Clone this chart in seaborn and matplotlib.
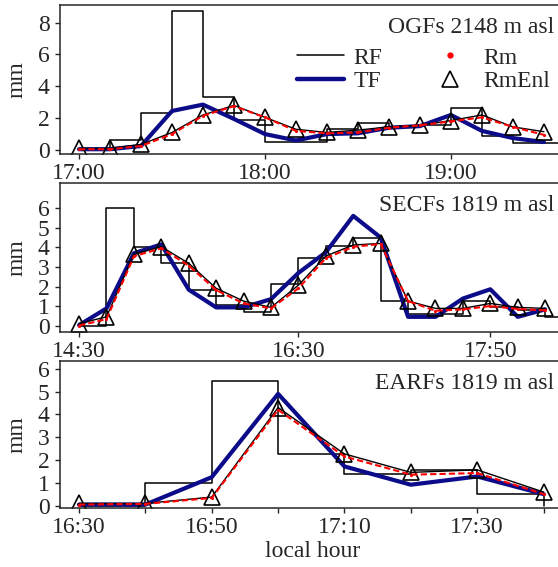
import numpy as np
import seaborn as sns
import matplotlib.pyplot as plt
from matplotlib.lines import Line2D

# OGFs 2148 m asl (10 min steps, 17:00 - 19:30)
ogf_rf = [0.0, 0.65, 2.3, 8.7, 3.3, 1.9, 0.5, 0.5, 1.3, 1.7, 1.45, 1.55, 2.65, 0.85, 0.45, 0.45]
ogf_tf = [0.05, 0.05, 0.25, 2.45, 2.85, 1.95, 1.0, 0.6, 1.0, 1.05, 1.4, 1.5, 2.2, 1.2, 0.75, 0.5]
ogf_rm = [0.05, 0.05, 0.25, 1.0, 2.15, 2.75, 2.05, 1.2, 1.05, 1.1, 1.4, 1.55, 1.8, 2.05, 1.45, 0.95]
ogf_rmenl = [0.1, 0.1, 0.35, 1.1, 2.2, 2.8, 2.05, 1.3, 1.1, 1.25, 1.45, 1.55, 1.85, 2.2, 1.45, 1.15]
ogf_ticks = [0, 6, 12]
ogf_labels = ["17:00", "18:00", "19:00"]

# SECFs 1819 m asl
secf_rf = [0.0, 6.0, 4.0, 3.2, 1.85, 1.05, 0.7, 2.15, 3.45, 4.05, 4.5, 1.25, 0.62, 0.6, 1.3, 0.95, 0.8, 0.45]
secf_tf = [0.05, 0.9, 3.7, 4.15, 1.85, 0.95, 0.95, 1.37, 2.7, 3.75, 5.6, 4.5, 0.47, 0.47, 1.4, 1.87, 0.47, 0.85]
secf_rm = [0.03, 0.35, 3.55, 3.95, 3.07, 1.83, 1.15, 0.9, 1.92, 3.45, 4.03, 4.17, 1.27, 0.78, 0.85, 1.02, 0.87, 0.8]
secf_rmenl = [0.13, 0.47, 3.66, 4.03, 3.19, 1.92, 1.27, 0.95, 2.08, 3.56, 4.12, 4.2, 1.27, 0.9, 0.9, 1.15, 0.95, 0.9]
secf_ticks = [0, 8, 15]
secf_labels = ["14:30", "16:30", "17:50"]

# EARFs 1819 m asl (10 min steps, 16:30 - 17:40)
earf_rf = [0.0, 1.0, 5.45, 2.27, 1.37, 1.57, 0.52]
earf_tf = [0.05, 0.05, 1.25, 4.9, 1.72, 0.92, 1.28, 0.51]
earf_rm = [0.05, 0.08, 0.34, 4.2, 2.16, 1.36, 1.43, 0.51]
earf_rmenl = [0.1, 0.1, 0.38, 4.3, 2.27, 1.46, 1.57, 0.6]
earf_ticks = [0, 1, 2, 3, 4, 5, 6, 7]
earf_labels = ["16:30", "", "16:50", "", "17:10", "", "17:30", ""]

navy = "#0c0c8a"

sns.set_style("ticks")
plt.rcParams["font.family"] = ["Liberation Serif", "DejaVu Serif"]
plt.rcParams["font.size"] = 17
plt.rcParams["axes.linewidth"] = 1.1

fig = plt.figure(figsize=(5.58, 5.67), dpi=100)


def draw_panel(ax, rf, tf, rm, rmenl, name, pos):
    idx = np.arange(len(tf))
    # rainfall drawn as step outline, closed back to zero at the end
    sns.lineplot(x=np.arange(len(rf) + 1), y=list(rf) + [0], ax=ax, color="black",
                 lw=1.1, drawstyle="steps-post", legend=False)
    sns.lineplot(x=idx, y=tf, ax=ax, color=navy, lw=3, legend=False)
    sns.lineplot(x=idx, y=rmenl, ax=ax, color="black", lw=1.0, marker="^",
                 markersize=11, markerfacecolor="none", markeredgecolor="black",
                 markeredgewidth=1.2, legend=False)
    sns.lineplot(x=idx, y=rm, ax=ax, color="red", lw=1.5, ls=(0, (3, 1.5)),
                 marker=".", markersize=3, markeredgecolor="red", legend=False)
    ax.text(pos[0], pos[1], name, transform=ax.transAxes, ha="left", va="center")
    ax.set_ylabel("mm")
    ax.yaxis.set_label_coords(-0.061, 0.5)
    ax.tick_params(direction="out", length=3.5, width=1.0, pad=3)
    ax.tick_params(axis="y", pad=4)
    return ax


# axes placed so the right edge runs past the canvas, as in the reference
ax1 = fig.add_axes([60 / 558, 1 - 154 / 567, 540 / 558, 149 / 567])
ax2 = fig.add_axes([60 / 558, 1 - 332 / 567, 540 / 558, 149 / 567])
ax3 = fig.add_axes([60 / 558, 1 - 508 / 567, 540 / 558, 147 / 567])

draw_panel(ax1, ogf_rf, ogf_tf, ogf_rm, ogf_rmenl, "OGFs 2148 m asl", (0.608, 0.846))
ax1.set_xlim(-0.613, 16.81)
ax1.set_ylim(-0.25, 9.1)
ax1.set_yticks([0, 2, 4, 6, 8])
ax1.set_xticks(ogf_ticks, ogf_labels)

draw_panel(ax2, secf_rf, secf_tf, secf_rm, secf_rmenl, "SECFs 1819 m asl", (0.591, 0.852))
ax2.set_xlim(-0.696, 19.0)
ax2.set_ylim(-0.3, 7.27)
ax2.set_yticks(range(0, 7))
ax2.set_xticks(secf_ticks, secf_labels)

draw_panel(ax3, earf_rf, earf_tf, earf_rm, earf_rmenl, "EARFs 1819 m asl", (0.584, 0.850))
ax3.set_xlim(-0.286, 7.85)
ax3.set_ylim(-0.1, 6.34)
ax3.set_yticks(range(0, 7))
ax3.set_xticks(earf_ticks, earf_labels)
ax3.set_xlabel("local hour")
ax3.xaxis.set_label_coords(0.467, -0.225)

handles = [
    Line2D([], [], color="black", lw=1.1),
    Line2D([], [], color=navy, lw=3.2),
    Line2D([], [], color="red", marker=".", ls="none", markersize=7),
    Line2D([], [], color="black", marker="^", ls="none", markersize=11,
           markerfacecolor="none", markeredgewidth=1.2),
]
ax1.legend(handles, ["RF", "TF", "Rm", "RmEnl"], ncol=2, frameon=False,
           loc="upper left", bbox_to_anchor=(297 / 558, 1 - 47 / 567),
           bbox_transform=fig.transFigure, borderpad=0, borderaxespad=0,
           handlelength=2.0, handletextpad=0.4, columnspacing=1.85,
           labelspacing=0.1)

fig.savefig("out.png", dpi=100)
